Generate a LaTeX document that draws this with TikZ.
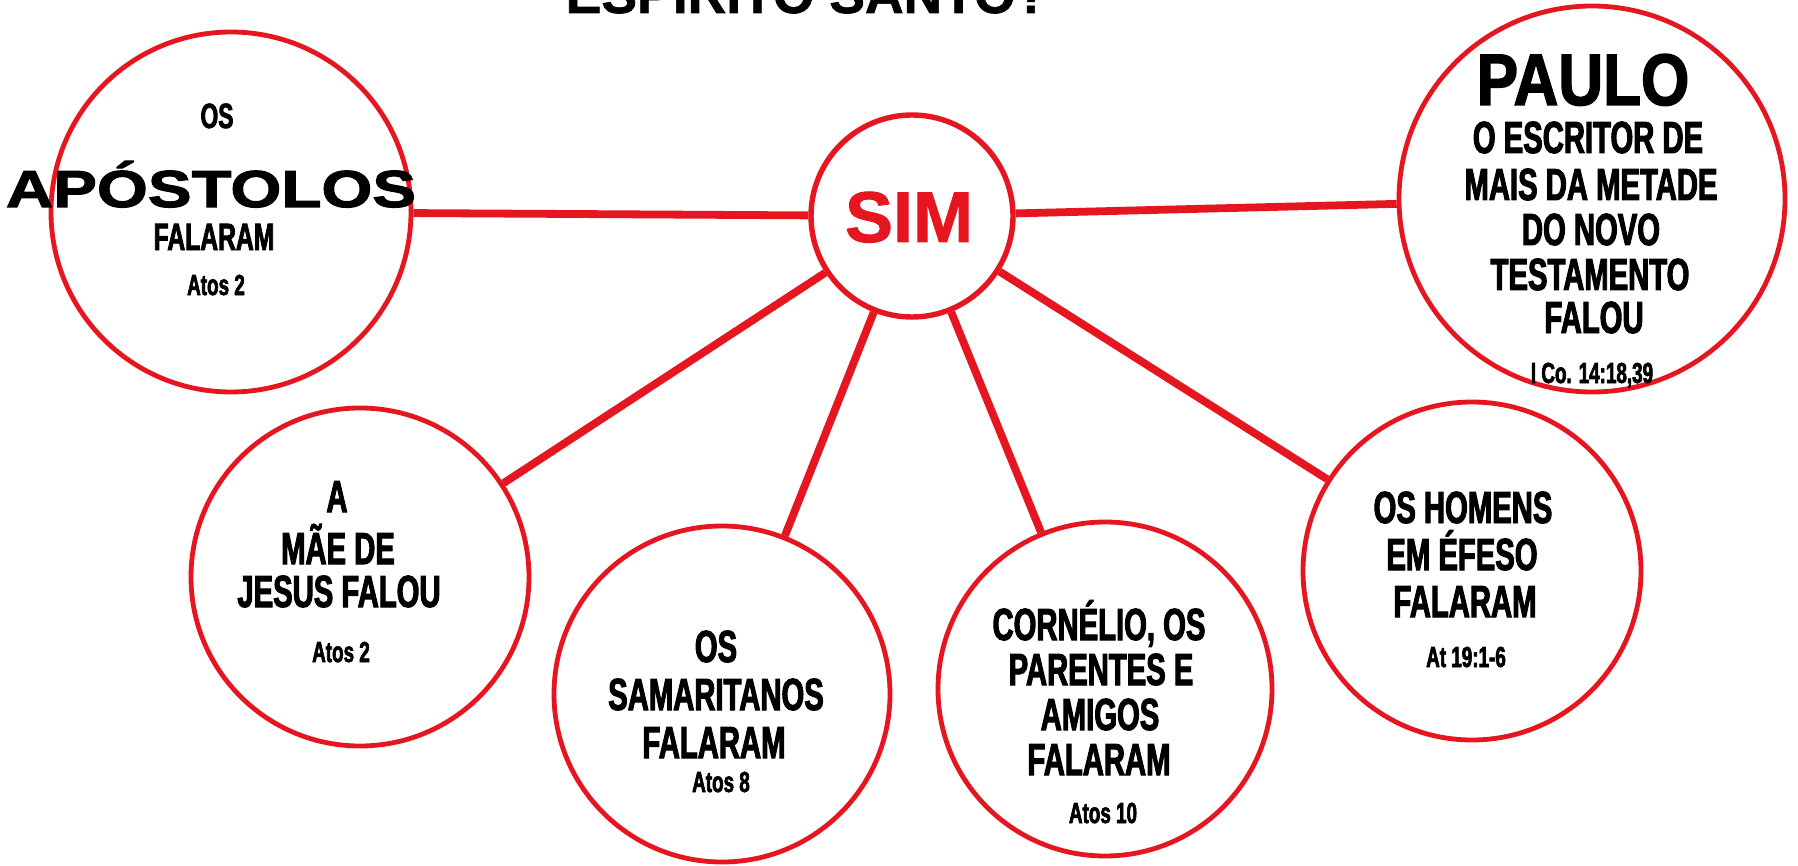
\documentclass[tikz,border=0pt]{standalone}
\usepackage{fontspec}
\newfontfamily\condf[FakeStretch=0.65,FakeBold=2.2]{Liberation Sans}
\newfontfamily\normf[FakeBold=1.2]{Liberation Sans}
\newfontfamily\titlef[FakeBold=1.2]{Liberation Sans}
\newfontfamily\widef[FakeStretch=1.26,FakeBold=2.2]{Liberation Sans}
\newfontfamily\paulof[FakeStretch=0.85,FakeBold=2]{Liberation Sans}
\definecolor{redc}{RGB}{230,22,32}
\tikzset{
  bubble/.style={circle, draw=redc, line width=2.4pt, fill=white, inner sep=0pt},
  link/.style={draw=redc, line width=3.9pt},
  body/.style={anchor=base, inner sep=0pt, font=\condf\bfseries\fontsize{22.5}{26}\selectfont},
  small/.style={anchor=base, inner sep=0pt, font=\condf\bfseries\fontsize{17.5}{20}\selectfont},
  reftxt/.style={anchor=base, inner sep=0pt, font=\condf\bfseries\fontsize{14.5}{17}\selectfont},
}
\begin{document}
\begin{tikzpicture}[x=0.5pt,y=-0.5pt]
\useasboundingbox (0,0) rectangle (1798,866);
\fill[white] (0,0) rectangle (1798,866);
% title (cut by the top edge)
\node[anchor=base, inner sep=0pt, font=\titlef\bfseries\fontsize{26.75}{30}\selectfont] (title) at (807,13) {ESPÍRITO SANTO?};
% circles
\node[bubble, minimum size=180pt] (apost) at (231,212) {};
\node[bubble, minimum size=101pt, line width=2.7pt] (sim) at (912,216) {};
\node[bubble, minimum size=193pt] (paulo) at (1592,199) {};
\node[bubble, minimum size=169pt] (mae) at (360,577) {};
\node[bubble, minimum size=168pt] (sama) at (722,694) {};
\node[bubble, minimum size=167pt] (corn) at (1105,689) {};
\node[bubble, minimum size=169pt] (homens) at (1472,571) {};
% connectors
\draw[link] (sim) -- (apost);
\draw[link] (sim) -- (paulo);
\draw[link] (sim) -- (mae);
\draw[link] (sim) -- (sama);
\draw[link] (sim) -- (corn);
\draw[link] (sim) -- (homens);
% SIM
\node[anchor=base, inner sep=0pt, text=redc, font=\normf\bfseries\fontsize{36}{40}\selectfont] (simt) at (909,242) {SIM};
% Apostolos
\node[small] (a1) at (217,128) {OS};
\node[anchor=base, inner sep=0pt, font=\widef\bfseries\fontsize{26}{30}\selectfont] (a2) at (211,207) {APÓSTOLOS};
\node[small, font=\condf\bfseries\fontsize{19}{22}\selectfont] (a3) at (214,250) {FALARAM};
\node[reftxt] (a4) at (216,295) {Atos 2};
% Paulo
\node[anchor=base, inner sep=0pt, font=\paulof\bfseries\fontsize{36.5}{40}\selectfont] (p1) at (1583,105) {PAULO};
\node[body] (p2) at (1588,153) {O ESCRITOR DE};
\node[body] (p3) at (1591,200) {MAIS DA METADE};
\node[body] (p4) at (1591,245) {DO NOVO};
\node[body] (p5) at (1590,290) {TESTAMENTO};
\node[body] (p6) at (1594,333) {FALOU};
\node[reftxt] (p7) at (1592,383) {I Co. 14:18,39};
% Mae
\node[body] (m1) at (337,512) {A};
\node[body] (m2) at (338,564) {MÃE DE};
\node[body] (m3) at (339,607) {JESUS FALOU};
\node[reftxt] (m4) at (341,662) {Atos 2};
% Samaritanos
\node[body] (s1) at (716,662) {OS};
\node[body] (s2) at (716,710) {SAMARITANOS};
\node[body] (s3) at (714,758) {FALARAM};
\node[reftxt] (s4) at (721,792) {Atos 8};
% Cornelio
\node[body] (c1) at (1099,640) {CORNÉLIO, OS};
\node[body] (c2) at (1101,685) {PARENTES E};
\node[body] (c3) at (1100,730) {AMIGOS};
\node[body] (c4) at (1099,775) {FALARAM};
\node[reftxt] (c5) at (1103,823) {Atos 10};
% Homens
\node[body] (h1) at (1463,523) {OS HOMENS};
\node[body] (h2) at (1462,570) {EM ÉFESO};
\node[body] (h3) at (1465,617) {FALARAM};
\node[reftxt] (h4) at (1466,667) {At 19:1-6};
\end{tikzpicture}
\end{document}
